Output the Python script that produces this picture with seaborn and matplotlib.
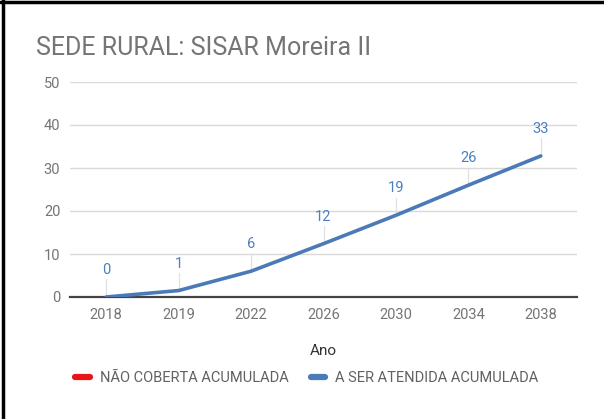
import matplotlib
matplotlib.use("Agg")
import matplotlib.pyplot as plt
from matplotlib.lines import Line2D
import seaborn as sns
import pandas as pd
import numpy as np

years = ["2018", "2019", "2022", "2026", "2030", "2034", "2038"]
nao_coberta = [np.nan] * 7
a_ser_atendida = [0, 1.5, 6, 12.4, 19, 26, 32.8]
labels_atendida = ["0", "1", "6", "12", "19", "26", "33"]

title = "SEDE RURAL: SISAR Moreira II"
x_label = "Ano"
series_names = ["NÃO COBERTA ACUMULADA", "A SER ATENDIDA ACUMULADA"]
colors = ["#e8141b", "#4a7ab8"]

sns.set_theme(style="white")
plt.rcParams["font.family"] = ["Roboto", "DejaVu Sans"]

df = pd.DataFrame({
    "Ano": years * 2,
    "valor": nao_coberta + a_ser_atendida,
    "serie": [series_names[0]] * len(years) + [series_names[1]] * len(years),
})
df["pos"] = list(range(len(years))) * 2

fig = plt.figure(figsize=(6.04, 4.19), dpi=100)
ax = fig.add_axes([70 / 604, 1 - 297 / 419, (577 - 70) / 604, (297 - 82) / 419])

sns.lineplot(data=df.dropna(), x="pos", y="valor", hue="serie",
             hue_order=series_names, palette=colors,
             linewidth=2.6, ax=ax, legend=False, sort=False, zorder=3)

ax.set_xlim(-0.5, len(years) - 0.5)
ax.set_ylim(0, 50)
ax.set_yticks(range(0, 51, 10))
ax.set_xticks(range(len(years)))
ax.set_xticklabels(years)
ax.yaxis.grid(True, color="#d9d9d9", linewidth=1)
ax.set_axisbelow(True)
for s in ["top", "right", "left"]:
    ax.spines[s].set_visible(False)
ax.spines["bottom"].set_color("#444444")
ax.spines["bottom"].set_linewidth(1.6)
ax.spines["bottom"].set_zorder(2.5)
ax.tick_params(axis="both", length=0, labelsize=10.5, colors="#757575", pad=8)
ax.tick_params(axis="y", pad=7)
ax.set_xlabel(x_label, fontsize=11, color="#333333", labelpad=16)
ax.set_ylabel("")

# Data labels with thin leader lines
for i, (v, lab) in enumerate(zip(a_ser_atendida, labels_atendida)):
    top = v + 27 / 4.3
    ax.plot([i, i], [v, top - 2.2], color="#e0e0e0", linewidth=0.9, zorder=2)
    ax.text(i, top, lab, ha="center", va="center", fontsize=10.5,
            color="#4a80c0", zorder=4)

fig.text(36 / 604, 1 - 48 / 419, title, fontsize=18, color="#757575",
         ha="left", va="center")

handles = [Line2D([0], [0], color=c, linewidth=4.5) for c in colors]
fig.legend(handles, series_names, loc="center", bbox_to_anchor=(0.508, 1 - 378 / 419),
           ncol=2, frameon=False, fontsize=10.5, handlelength=1.0,
           handletextpad=0.7, columnspacing=1.5, labelcolor="#616161")

# Outer frame lines (left and top)
fig.add_artist(Line2D([3 / 604, 3 / 604], [0, 1], color="black", linewidth=2.5,
                      transform=fig.transFigure))
fig.add_artist(Line2D([0, 1], [1 - 2 / 419, 1 - 2 / 419], color="black",
                      linewidth=2.5, transform=fig.transFigure))

fig.savefig("out.png", dpi=100)
